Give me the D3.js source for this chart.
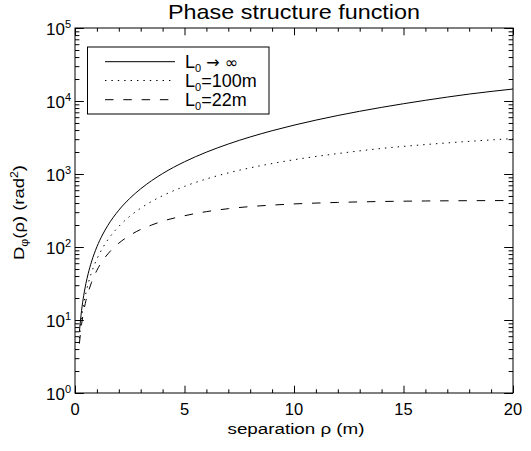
<!DOCTYPE html>
<html>
<head>
<meta charset="utf-8">
<script src="https://cdn.jsdelivr.net/npm/d3@7"></script>
<style>
  html, body { margin: 0; padding: 0; background: #fff; }
  svg { display: block; }
  text { font-family: "Liberation Sans", Arial, Helvetica, sans-serif; fill: #000; }
</style>
</head>
<body>
<svg id="chart" width="531" height="451"></svg>
<script>
// Separation (m) at which the structure function is sampled
const rho = [0.2, 0.3, 0.4, 0.5, 0.6, 0.75, 1, 1.25, 1.5, 2, 2.5, 3, 3.5, 4, 5, 6, 7, 8, 9, 10, 12, 14, 16, 18, 20];

// D_phi(rho) in rad^2 for each outer scale
const dInfinite = [6.88, 13.5, 21.8, 31.7, 42.9, 62.3, 100.6, 145.9, 197.7, 319.3, 463, 627, 811.6, 1014, 1470, 1992, 2576, 3218, 3916, 4669, 6327, 8180, 10220, 12440, 14590];
const d100m     = [5.6, 10.6, 16.7, 23.6, 31.3, 44.2, 68.4, 95.7, 125.6, 191, 263, 340, 421, 504, 677, 855, 1035, 1214, 1391, 1568, 1905, 2240, 2530, 2800, 3060];
const d22m      = [4.75, 8.7, 13.3, 18.5, 23.8, 32.5, 47.9, 64.1, 80.4, 112.8, 144, 174, 200, 226, 268, 305, 335, 358, 375, 389, 408, 420, 427, 431, 433];

// Legend entries: symbol, subscript, trailing text
const legendMain = ["L", "L", "L"];
const legendSub = ["0", "0", "0"];
const legendTail = [" \u2192 \u221E", "=100m", "=22m"];

const xTicks = [0, 5, 10, 15, 20];
const xMinor = d3.range(0, 21, 1).filter(v => v % 5 !== 0);
const yExponents = [0, 1, 2, 3, 4, 5];

const titleText = "Phase structure function";
const xLabelText = "separation \u03C1 (m)";

const svg = d3.select("#chart");
const pLeft = 75, pRight = 513, pTop = 28, pBottom = 393;

const x = d3.scaleLinear().domain([0, 20]).range([pLeft, pRight]);
const y = d3.scaleLog().domain([1, 1e5]).range([pBottom, pTop]);

const yMajor = yExponents.map(e => Math.pow(10, e));
const yMinor = [];
yExponents.slice(0, -1).forEach(e => {
  for (let m = 2; m <= 9; m++) yMinor.push(m * Math.pow(10, e));
});

// Frame
svg.append("rect")
  .attr("x", pLeft).attr("y", pTop)
  .attr("width", pRight - pLeft).attr("height", pBottom - pTop)
  .attr("fill", "none").attr("stroke", "#000").attr("stroke-width", 1);

// Inward tick marks on all four sides
function ticksGroup(axis, tx, ty) {
  const g = svg.append("g").attr("transform", `translate(${tx},${ty})`).call(axis);
  g.select(".domain").remove();
  g.selectAll(".tick line").attr("stroke", "#000").attr("stroke-width", 1);
  g.selectAll(".tick text").remove();
  return g;
}
const xMajLen = 7.3, xMinLen = 3.7, yMajLen = 8.8, yMinLen = 4.4;
ticksGroup(d3.axisBottom(x).tickValues(xTicks).tickSize(-xMajLen), 0, pBottom);
ticksGroup(d3.axisBottom(x).tickValues(xMinor).tickSize(-xMinLen), 0, pBottom);
ticksGroup(d3.axisTop(x).tickValues(xTicks).tickSize(-xMajLen), 0, pTop);
ticksGroup(d3.axisTop(x).tickValues(xMinor).tickSize(-xMinLen), 0, pTop);
ticksGroup(d3.axisLeft(y).tickValues(yMajor).tickSize(-yMajLen), pLeft, 0);
ticksGroup(d3.axisLeft(y).tickValues(yMinor).tickSize(-yMinLen), pLeft, 0);
ticksGroup(d3.axisRight(y).tickValues(yMajor).tickSize(-yMajLen), pRight, 0);
ticksGroup(d3.axisRight(y).tickValues(yMinor).tickSize(-yMinLen), pRight, 0);

// X tick labels
svg.append("g").selectAll("text").data(xTicks).join("text")
  .attr("x", d => x(d)).attr("y", pBottom + 22)
  .attr("text-anchor", "middle")
  .attr("font-size", 16.5)
  .text(d => d);

// Y tick labels as powers of ten
const yl = svg.append("g").selectAll("text").data(yExponents).join("text")
  .attr("x", pLeft - 4).attr("y", e => y(Math.pow(10, e)) + 7)
  .attr("text-anchor", "end")
  .attr("font-size", 17);
yl.append("tspan").text("10");
yl.append("tspan").attr("font-size", 11).attr("dy", -7).text(e => e);

// Curves
const line = d3.line()
  .x(d => x(d[0]))
  .y(d => y(d[1]))
  .curve(d3.curveMonotoneX);

const series = [
  { values: dInfinite, dash: null },
  { values: d100m, dash: "1.4,5" },
  { values: d22m, dash: "8.5,9.8" }
];

const plot = svg.append("g");
series.forEach(s => {
  plot.append("path")
    .attr("d", line(rho.map((r, i) => [r, s.values[i]])))
    .attr("fill", "none")
    .attr("stroke", "#000")
    .attr("stroke-width", 1)
    .attr("stroke-dasharray", s.dash);
});

// Legend
const legend = svg.append("g");
legend.append("rect")
  .attr("x", 87.5).attr("y", 47)
  .attr("width", 181.5).attr("height", 67)
  .attr("fill", "#fff").attr("stroke", "#000").attr("stroke-width", 1);
const rowY = [61.7, 80.5, 99.7];
series.forEach((s, i) => {
  legend.append("line")
    .attr("x1", 105).attr("x2", 175)
    .attr("y1", rowY[i]).attr("y2", rowY[i])
    .attr("stroke", "#000").attr("stroke-width", 1)
    .attr("stroke-dasharray", s.dash);
  const t = legend.append("text")
    .attr("x", 185).attr("y", rowY[i] + 6)
    .attr("font-size", 18);
  t.append("tspan").text(legendMain[i]);
  t.append("tspan").attr("font-size", 11).attr("dy", 4).text(legendSub[i]);
  t.append("tspan").attr("dy", -4)
    .attr("font-family", i === 0 ? "DejaVu Sans, sans-serif" : null)
    .attr("font-size", i === 0 ? 16 : null)
    .text(legendTail[i]);
});

// Title
svg.append("text")
  .attr("x", (pLeft + pRight) / 2).attr("y", 18.5)
  .attr("text-anchor", "middle")
  .attr("font-size", 21)
  .attr("textLength", 252)
  .attr("lengthAdjust", "spacingAndGlyphs")
  .text(titleText);

// X axis title
svg.append("text")
  .attr("x", (pLeft + pRight) / 2 + 2).attr("y", 433.5)
  .attr("text-anchor", "middle")
  .attr("font-size", 15.5)
  .attr("textLength", 137)
  .attr("lengthAdjust", "spacingAndGlyphs")
  .text(xLabelText);

// Y axis title: D_phi(rho) (rad^2)
const yt = svg.append("text")
  .attr("transform", `translate(24,${(pTop + pBottom) / 2 + 2}) rotate(-90)`)
  .attr("text-anchor", "middle")
  .attr("font-size", 15)
  .attr("textLength", 95)
  .attr("lengthAdjust", "spacingAndGlyphs");
yt.append("tspan").text("D");
yt.append("tspan").attr("font-size", 10).attr("dy", 4).text("\u03C6");
yt.append("tspan").attr("dy", -4).text("(\u03C1) (rad");
yt.append("tspan").attr("font-size", 10).attr("dy", -6).text("2");
yt.append("tspan").attr("dy", 6).text(")");
</script>
</body>
</html>
